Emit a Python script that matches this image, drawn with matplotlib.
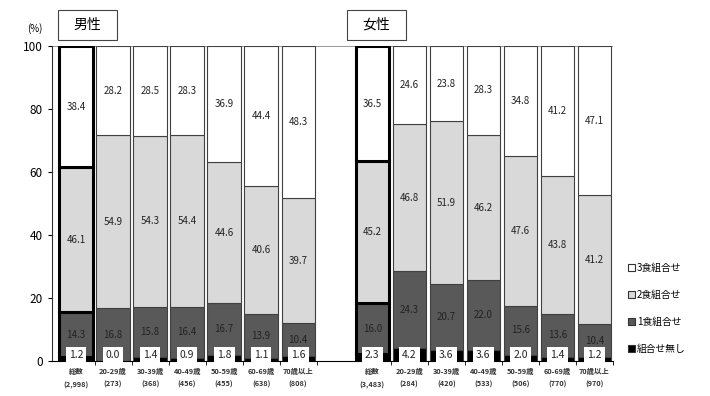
import numpy as np
import matplotlib
matplotlib.use("Agg")
import matplotlib.pyplot as plt
from matplotlib.patches import Patch, Rectangle

plt.rcParams['font.family'] = ['Noto Sans CJK JP', 'DejaVu Sans']

# categories
male_labels = ['総数\n(2,998)', '20-29歳\n(273)', '30-39歳\n(368)', '40-49歳\n(456)',
               '50-59歳\n(455)', '60-69歳\n(638)', '70歳以上\n(808)']
female_labels = ['総数\n(3,483)', '20-29歳\n(284)', '30-39歳\n(420)', '40-49歳\n(533)',
                 '50-59歳\n(506)', '60-69歳\n(770)', '70歳以上\n(970)']

# series (%)
male_none = [1.2, 0.0, 1.4, 0.9, 1.8, 1.1, 1.6]
male_one = [14.3, 16.8, 15.8, 16.4, 16.7, 13.9, 10.4]
male_two = [46.1, 54.9, 54.3, 54.4, 44.6, 40.6, 39.7]
male_three = [38.4, 28.2, 28.5, 28.3, 36.9, 44.4, 48.3]

female_none = [2.3, 4.2, 3.6, 3.6, 2.0, 1.4, 1.2]
female_one = [16.0, 24.3, 20.7, 22.0, 15.6, 13.6, 10.4]
female_two = [45.2, 46.8, 51.9, 46.2, 47.6, 43.8, 41.2]
female_three = [36.5, 24.6, 23.8, 28.3, 34.8, 41.2, 47.1]

series_names = ['組合せ無し', '1食組合せ', '2食組合せ', '3食組合せ']
colors = ['#000000', '#595959', '#d9d9d9', '#ffffff']

fig = plt.figure(figsize=(7.1, 3.96), dpi=100)
ax = fig.add_axes([0.0732, 0.0884, 0.79, 0.795])

x_m = np.arange(7)
x_f = np.arange(7) + 8
labels = male_labels + female_labels
xs = np.concatenate([x_m, x_f])

none = np.array(male_none + female_none)
one = np.array(male_one + female_one)
two = np.array(male_two + female_two)
three = np.array(male_three + female_three)
stack = [none, one, two, three]

width = 0.9
bottom = np.zeros(len(xs))
for vals, col in zip(stack, colors):
    for i, (xi, v, b) in enumerate(zip(xs, vals, bottom)):
        thick = i in (0, 7)
        ax.bar(xi, v, width, bottom=b, color=col,
               edgecolor='black' if thick else '#404040',
               linewidth=2.2 if thick else 0.8, zorder=2)
    bottom = bottom + vals

# value labels
fs = 7
b1 = none
for xi, v, b in zip(xs, one, b1):
    ax.text(xi, b + v / 2, f'{v:.1f}', ha='center', va='center', fontsize=fs,
            color='#222222', zorder=4)
b2 = none + one
for xi, v, b in zip(xs, two, b2):
    ax.text(xi, b + v / 2, f'{v:.1f}', ha='center', va='center', fontsize=fs,
            color='#222222', zorder=4)
b3 = none + one + two
for xi, v, b in zip(xs, three, b3):
    ax.text(xi, b + v / 2, f'{v:.1f}', ha='center', va='center', fontsize=fs,
            color='#222222', zorder=4)
for xi, v in zip(xs, none):
    ax.text(xi, 1.9, f'{v:.1f}', ha='center', va='center', fontsize=7.5,
            color='#222222', zorder=5,
            bbox=dict(boxstyle='square,pad=0.3', fc='white', ec='none'))

ax.set_xlim(-0.65, 14.5)
ax.set_ylim(0, 100)
ax.set_yticks([0, 20, 40, 60, 80, 100])
ax.tick_params(axis='y', labelsize=8.5, length=3, direction='out')
ax.set_xticks(xs)
ax.set_xticklabels(labels, fontsize=5.3, fontweight='bold', color='#333333',
                   linespacing=2.0)
ax.tick_params(axis='x', length=0, pad=5)
ax.set_xticks(np.concatenate([x_m, x_f]) + 0.5, minor=True)
ax.tick_params(axis='x', which='minor', length=3, direction='out')
for s in ['top', 'right']:
    ax.spines[s].set_visible(False)
ax.spines['left'].set_color('#333333')
ax.spines['bottom'].set_color('black')
ax.axhline(100, color='#888888', lw=1.2, zorder=1)

fig.text(0.049, 0.928, '(%)', fontsize=7, ha='center', va='center')
for x0, name in [(0.0817, '男性'), (0.489, '女性')]:
    fig.patches.append(Rectangle((x0, 0.899), 0.083, 0.076, transform=fig.transFigure,
                                 fc='white', ec='#444444', lw=0.8))
    fig.text(x0 + 0.0415, 0.937, name, fontsize=10, ha='center', va='center')

handles = [Patch(facecolor=c, edgecolor='#333333', lw=0.8) for c in colors[::-1]]
fig.legend(handles, series_names[::-1], loc='lower left',
           bbox_to_anchor=(0.872, 0.085), frameon=False, fontsize=7,
           handlelength=0.7, handleheight=0.7, handletextpad=0.2,
           labelspacing=1.75)

fig.savefig('out.png', dpi=100)
